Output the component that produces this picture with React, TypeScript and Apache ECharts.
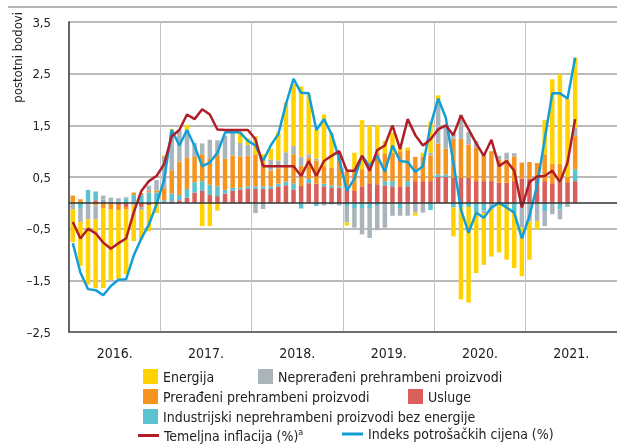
import React, { useEffect, useRef } from "react";
import * as echarts from "echarts";

const YEARS = ["2016.", "2017.", "2018.", "2019.", "2020.", "2021."];
const MONTHS: string[] = [];
for (let y = 2016; y <= 2021; y++) for (let m = 1; m <= 12; m++) MONTHS.push(`${y}-${m < 10 ? "0" + m : m}`);

const USLUGE = [
  0, 0, 0, 0.05, 0.03, 0, -0.04, -0.08, 0.02, -0.08, -0.05, 0.03,
  0, 0.03, 0.05, 0.1, 0.2, 0.23, 0.15, 0.13, 0.18, 0.23, 0.26, 0.27,
  0.27, 0.27, 0.27, 0.32, 0.34, 0.26, 0.33, 0.38, 0.37, 0.32, 0.29, 0.29,
  0.26, 0.23, 0.32, 0.38, 0.36, 0.34, 0.32, 0.32, 0.32, 0.42, 0.42, 0.42,
  0.5, 0.5, 0.48, 0.48, 0.48, 0.42, 0.42, 0.42, 0.39, 0.39, 0.42, 0.47,
  0.47, 0.47, 0.42, 0.38, 0.4, 0.4, 0.42,
];
const INDUSTRIJSKI = [
  0, -0.1, 0.25, 0.17, 0.03, 0.02, 0.03, 0.08, 0.13, 0.16, 0.2, 0.17,
  0.05, 0.15, 0.1, 0.17, 0.2, 0.19, 0.2, 0.19, 0.07, 0.06, 0.03, 0.05,
  0.05, 0.05, 0.05, 0.05, 0.07, 0.12, -0.11, 0.08, -0.06, 0.05, 0.05, 0.03,
  -0.06, -0.1, -0.1, -0.1, -0.06, 0.08, 0.1, -0.1, 0.1, 0, 0, -0.14,
  0.05, 0.05, -0.09, -0.09, -0.08, -0.18, -0.15, 0, 0, -0.06, -0.19, 0,
  0, 0, -0.16, 0, -0.13, 0, 0.23,
];
const PRERADENI = [
  0.14, 0.07, 0, -0.05, -0.1, -0.13, -0.1, -0.05, 0.05, 0.03, 0.03, 0.04,
  0.25, 0.45, 0.65, 0.6, 0.5, 0.52, 0.5, 0.61, 0.6, 0.62, 0.61, 0.59,
  0.62, 0.45, 0.3, 0.3, 0.3, 0.56, 0.39, 0.42, 0.45, 0.34, 0.34, 0.55,
  0.34, 0.42, 0.33, 0.35, 0.61, 0.54, 0.55, 0.68, 0.6, 0.47, 0.48, 0.5,
  0.6, 0.5, 0.76, 0.76, 0.65, 0.65, 0.52, 0.58, 0.45, 0.45, 0.48, 0.31,
  0.32, 0.3, 0.52, 0.37, 0.35, 0.1, 0.64,
];
const NEPRERADENI = [
  -0.13, -0.27, -0.32, -0.27, 0.08, 0.08, 0.06, 0.03, -0.05, -0.06, 0.1, 0.2,
  0.6, 0.75, 0.6, 0.55, 0.26, 0.21, 0.37, 0.28, 0.45, 0.45, 0.26, 0.21,
  -0.2, -0.12, 0.22, 0.15, 0.27, 0.16, 0.17, 0.06, 0.04, -0.05, -0.03, -0.05,
  -0.32, -0.38, -0.51, -0.58, -0.47, -0.48, -0.25, -0.15, -0.25, -0.19, -0.19, 0.05,
  0.8, 0.45, 0.1, 0.47, 0.24, 0.13, -0.05, -0.12, 0.07, 0.13, 0.06, -0.48,
  -0.36, -0.35, -0.29, -0.22, -0.19, -0.08, 0.16,
];
const ENERGIJA = [
  -0.63, -0.85, -1.26, -1.33, -1.55, -1.36, -1.33, -1.25, -0.69, -0.57, -0.5, -0.2,
  0.02, 0.05, 0, 0.09, 0, -0.45, -0.45, -0.15, 0, 0, 0.2, 0.13,
  0.35, 0.17, 0.21, 0.54, 0.96, 1.2, 1.36, 1.15, 0.55, 1.0, 0.68, 0.12,
  -0.06, 0.32, 0.95, 0.76, 0.53, 0.24, 0.39, 0.07, 0.05, -0.06, 0.07, 0.6,
  0.13, 0, -0.56, -1.78, -1.85, -1.18, -1.0, -0.92, -0.96, -1.04, -1.07, -0.94,
  -0.74, -0.16, 0.66, 1.64, 1.74, 1.52, 1.36,
];
const TEMELJNA = [
  -0.37, -0.69, -0.5, -0.59, -0.77, -0.89, -0.78, -0.69, -0.19, 0.23, 0.42, 0.52,
  0.75, 1.29, 1.41, 1.71, 1.62, 1.81, 1.71, 1.42, 1.41, 1.41, 1.41, 1.41,
  1.23, 0.71, 0.71, 0.71, 0.71, 0.71, 0.52, 0.81, 0.52, 0.81, 0.91, 1.0,
  0.62, 0.62, 0.91, 0.62, 1.02, 1.11, 1.5, 1.04, 1.62, 1.31, 1.11, 1.23,
  1.42, 1.5, 1.31, 1.69, 1.42, 1.15, 0.91, 1.22, 0.71, 0.81, 0.62, -0.09,
  0.4, 0.51, 0.52, 0.62, 0.4, 0.78, 1.62,
];
const IPC = [
  -0.78, -1.35, -1.67, -1.69, -1.79, -1.61, -1.49, -1.48, -1.02, -0.69, -0.42, -0.03,
  0.45, 1.41, 1.11, 1.41, 1.1, 0.71, 0.78, 0.97, 1.36, 1.37, 1.36, 1.2,
  1.11, 0.81, 1.11, 1.33, 1.91, 2.4, 2.13, 2.12, 1.41, 1.62, 1.33, 0.85,
  0.23, 0.47, 0.91, 0.71, 0.91, 0.6, 1.11, 0.81, 0.79, 0.6, 0.71, 1.5,
  2.02, 1.65, 0.78, -0.13, -0.58, -0.19, -0.29, -0.09, 0, -0.09, -0.19, -0.69,
  -0.25, 0.33, 1.23, 2.12, 2.12, 2.02, 2.81,
];

const FONT = "'Liberation Sans Narrow', 'Arial Narrow', 'DejaVu Sans Condensed', sans-serif";
const C_EN = "#ffd200";
const C_NEP = "#aab5bb";
const C_PRE = "#f7941d";
const C_USL = "#d9605a";
const C_IND = "#5bc3d0";
const C_TEM = "#b01e28";
const C_IPC = "#129fd8";

export default function App() {
  const ref = useRef<HTMLDivElement>(null);
  useEffect(() => {
    if (!ref.current) return;
    const chart = echarts.init(ref.current, undefined, { renderer: "svg" });
    const bar = (name: string, data: number[], color: string) => ({
      name,
      type: "bar",
      stack: "c",
      stackStrategy: "samesign",
      barWidth: 4.5,
      data,
      itemStyle: { color },
      xAxisIndex: 0,
      yAxisIndex: 0,
    });
    const sqLegend = (name: string, left: number, top: number) => ({
      data: [name],
      left,
      top,
      itemWidth: 15,
      itemHeight: 15,
      icon: "rect",
      padding: 0,
      textStyle: { fontFamily: FONT, fontSize: 14, color: "#222" },
      selectedMode: false,
    });
    const lnLegend = (name: string, left: number, top: number) => ({
      data: [name],
      left,
      top,
      itemWidth: 21,
      itemHeight: 3,
      icon: "rect",
      padding: 0,
      selectedMode: false,
      formatter: (n: string) => (n.startsWith("Temeljna") ? n + "{s|a}" : n),
      textStyle: {
        fontFamily: FONT,
        fontSize: 14,
        color: "#222",
        rich: { s: { fontFamily: FONT, fontSize: 9, color: "#222", verticalAlign: "top", padding: [0, 0, 8, 0] } },
      },
    });
    const fmt = (v: number) => {
      const r = Math.round(v * 10) / 10;
      if (Math.abs(Math.round(r * 2)) % 2 === 0) return "";
      const s = Math.abs(r).toFixed(1).replace(".", ",");
      return r < 0 ? "\u2013" + s : s;
    };
    chart.setOption({
      animation: false,
      grid: { left: 69, top: 22, width: 552, height: 310, containLabel: false },
      xAxis: [
        {
          type: "category",
          data: MONTHS,
          boundaryGap: true,
          axisLine: { show: true, onZero: false, lineStyle: { color: "#555", width: 1.5 } },
          axisTick: { show: false },
          axisLabel: { show: false },
          splitLine: {
            show: true,
            interval: (i: number) => i % 12 === 0 && i > 0,
            lineStyle: { color: "#c4c4c4", width: 1 },
          },
        },
        {
          type: "category",
          data: YEARS,
          position: "bottom",
          boundaryGap: true,
          axisLine: { show: false },
          axisTick: { show: false },
          splitLine: { show: false },
          axisLabel: { fontFamily: FONT, fontSize: 14, color: "#222", margin: 14 },
        },
      ],
      yAxis: {
        type: "value",
        min: -2.5,
        max: 3.5,
        interval: 0.5,
        axisLine: { show: true, lineStyle: { color: "#333", width: 1.5 } },
        axisTick: { show: false },
        axisLabel: { formatter: fmt, fontFamily: FONT, fontSize: 13, color: "#222", margin: 18, padding: [5, 0, 0, 0] },
        splitLine: { show: true, lineStyle: { color: ["#a3a3a3", "rgba(0,0,0,0)"], width: 1.5 } },
      },
      legend: [
        sqLegend("Energija", 143, 369),
        sqLegend("Neprerađeni prehrambeni proizvodi", 258, 369),
        sqLegend("Prerađeni prehrambeni proizvodi", 143, 389),
        sqLegend("Usluge", 408, 389),
        sqLegend("Industrijski neprehrambeni proizvodi bez energije", 143, 409),
        lnLegend("Temeljna inflacija (%)", 138, 427),
        lnLegend("Indeks potrošačkih cijena (%)", 342, 427),
      ],
      graphic: [
        { type: "line", shape: { x1: 8, y1: 7, x2: 617, y2: 7 }, style: { stroke: "#666", lineWidth: 1 } },
        {
          type: "text",
          x: 17,
          y: 12,
          rotation: Math.PI / 2,
          style: { text: "postotni bodovi", fontFamily: FONT, fontSize: 13, fill: "#222", textAlign: "right", textVerticalAlign: "middle" },
        },
      ],
      series: [
        {
          ...bar("Usluge", USLUGE, C_USL),
          markLine: {
            silent: true,
            symbol: "none",
            label: { show: false },
            lineStyle: { color: "#333", width: 1.5, type: "solid" },
            data: [{ yAxis: 0 }],
          },
        },
        bar("Industrijski neprehrambeni proizvodi bez energije", INDUSTRIJSKI, C_IND),
        bar("Prerađeni prehrambeni proizvodi", PRERADENI, C_PRE),
        bar("Neprerađeni prehrambeni proizvodi", NEPRERADENI, C_NEP),
        bar("Energija", ENERGIJA, C_EN),
        {
          name: "Indeks potrošačkih cijena (%)",
          type: "line",
          data: IPC,
          symbol: "none",
          lineStyle: { color: C_IPC, width: 2.5 },
          itemStyle: { color: C_IPC },
          z: 3,
        },
        {
          name: "Temeljna inflacija (%)",
          type: "line",
          data: TEMELJNA,
          symbol: "none",
          lineStyle: { color: C_TEM, width: 2.5 },
          itemStyle: { color: C_TEM },
          z: 4,
        },
      ],
    });
    return () => chart.dispose();
  }, []);
  return <div ref={ref} style={{ position: "fixed", left: 0, top: 0, width: 617, height: 446 }} />;
}
